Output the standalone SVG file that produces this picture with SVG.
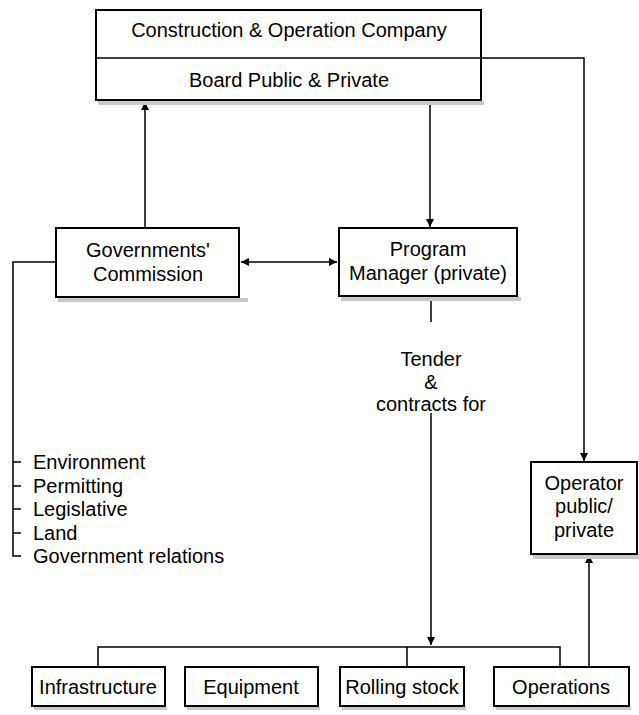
<svg xmlns="http://www.w3.org/2000/svg" width="639" height="715" viewBox="0 0 639 715">
<style>
.box{fill:#fff;stroke:#000;stroke-width:2}
.shadow{fill:#c8c8c8}
.t{font-family:"Liberation Sans",Arial,sans-serif;font-size:20px;fill:#000;text-anchor:middle}
.l{font-family:"Liberation Sans",Arial,sans-serif;font-size:20px;fill:#000}
.c{fill:none;stroke:#000;stroke-width:1.5}
</style>
<defs>
<marker id="arr" viewBox="0 0 10 10" refX="10" refY="5" markerWidth="8" markerHeight="8" markerUnits="userSpaceOnUse" orient="auto-start-reverse">
<path d="M0,0 L10,5 L0,10 z" fill="#000"/>
</marker>
</defs>
<rect width="639" height="715" fill="#fff"/>
<g id="connectors">
<line class="c" x1="145" y1="228" x2="145" y2="102" marker-end="url(#arr)"/>
<line class="c" x1="430" y1="101" x2="430" y2="227" marker-end="url(#arr)"/>
<polyline class="c" points="481,58 584,58 584,461" marker-end="url(#arr)"/>
<line class="c" x1="241" y1="262" x2="337" y2="262" marker-start="url(#arr)" marker-end="url(#arr)"/>
<polyline class="c" points="56,262 13,262 13,556 21,556"/>
<line class="c" x1="13" y1="462" x2="21" y2="462"/>
<line class="c" x1="13" y1="486" x2="21" y2="486"/>
<line class="c" x1="13" y1="509" x2="21" y2="509"/>
<line class="c" x1="13" y1="533" x2="21" y2="533"/>
<line class="c" x1="431" y1="297" x2="431" y2="322"/>
<line class="c" x1="431" y1="413" x2="431" y2="645" marker-end="url(#arr)"/>
<polyline class="c" points="98,667 98,647 560,647 560,667"/>
<line class="c" x1="407" y1="647" x2="407" y2="667"/>
<line class="c" x1="589" y1="666" x2="589" y2="555" marker-end="url(#arr)"/>
</g>
<g id="company">
<rect class="shadow" x="98" y="101" width="386" height="4"/>
<rect class="box" x="96" y="10" width="385" height="90"/>
<line x1="96" y1="58" x2="481" y2="58" stroke="#000" stroke-width="1.5"/>
<text class="t" x="289" y="37">Construction &amp; Operation Company</text>
<text class="t" x="289" y="87">Board Public &amp; Private</text>
</g>
<g id="governments">
<rect class="shadow" x="58" y="298" width="190" height="4"/>
<rect class="box" x="56" y="228" width="183" height="69"/>
<text class="t" x="148" y="257">Governments'</text>
<text class="t" x="148" y="281">Commission</text>
</g>
<g id="program-manager">
<rect class="shadow" x="341" y="297" width="180" height="4"/>
<rect class="box" x="339" y="228" width="178" height="68"/>
<text class="t" x="428" y="256">Program</text>
<text class="t" x="428" y="280">Manager (private)</text>
</g>
<g id="tender-label">
<text class="t" x="431" y="366">Tender</text>
<text class="t" x="431" y="389">&amp;</text>
<text class="t" x="431" y="411">contracts for</text>
</g>
<g id="gov-list">
<text class="l" x="33" y="469">Environment</text>
<text class="l" x="33" y="493">Permitting</text>
<text class="l" x="33" y="516">Legislative</text>
<text class="l" x="33" y="540">Land</text>
<text class="l" x="33" y="563">Government relations</text>
</g>
<g id="operator">
<rect class="shadow" x="533" y="555" width="106" height="4"/>
<rect class="box" x="531" y="462" width="106" height="92"/>
<text class="t" x="584" y="490">Operator</text>
<text class="t" x="584" y="513">public/</text>
<text class="t" x="584" y="537">private</text>
</g>
<g id="infrastructure">
<rect class="shadow" x="34" y="707" width="133" height="3"/>
<rect class="box" x="32" y="667" width="133" height="39"/>
<text class="t" x="98" y="694">Infrastructure</text>
</g>
<g id="equipment">
<rect class="shadow" x="187" y="707" width="133" height="3"/>
<rect class="box" x="185" y="667" width="133" height="39"/>
<text class="t" x="251" y="694">Equipment</text>
</g>
<g id="rolling-stock">
<rect class="shadow" x="342" y="707" width="124" height="3"/>
<rect class="box" x="340" y="667" width="124" height="39"/>
<text class="t" x="402" y="694">Rolling stock</text>
</g>
<g id="operations">
<rect class="shadow" x="496" y="707" width="135" height="3"/>
<rect class="box" x="494" y="667" width="135" height="39"/>
<text class="t" x="561" y="694">Operations</text>
</g>
</svg>
